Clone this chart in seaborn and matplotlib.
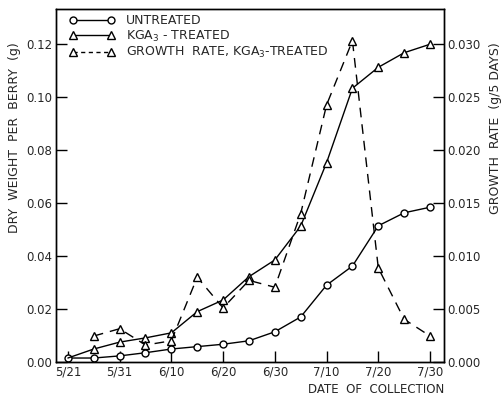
import matplotlib
matplotlib.use("Agg")
import matplotlib.pyplot as plt
from matplotlib.lines import Line2D
import seaborn as sns
import pandas as pd

# days after 5/21
days = [0, 5, 10, 15, 20, 25, 30, 35, 40, 45, 50, 55, 60, 65, 70]
untreated = [0.0015, 0.0015, 0.0023, 0.0035, 0.0049, 0.0058, 0.0067, 0.0080,
             0.0114, 0.0170, 0.0290, 0.0362, 0.0514, 0.0563, 0.0584]
treated = [0.0015, 0.0049, 0.0075, 0.0091, 0.0110, 0.0190, 0.0234, 0.0322,
           0.0385, 0.0513, 0.0752, 0.1033, 0.1112, 0.1167, 0.1199]
rate_days = [5, 10, 15, 20, 25, 30, 35, 40, 45, 50, 55, 60, 65, 70]
rate = [0.00245, 0.00314, 0.0016, 0.0020, 0.0080, 0.0051, 0.0077, 0.00705,
        0.0140, 0.02425, 0.0303, 0.00887, 0.00403, 0.00245]
xtick_days = [0, 10, 20, 30, 40, 50, 60, 70]
xtick_labels = ["5/21", "5/31", "6/10", "6/20", "6/30", "7/10", "7/20", "7/30"]
left_ticks = [0.00, 0.02, 0.04, 0.06, 0.08, 0.10, 0.12]
right_ticks = [0.000, 0.005, 0.010, 0.015, 0.020, 0.025, 0.030]
labels = ["UNTREATED", "KGA$_3$ - TREATED", "GROWTH  RATE, KGA$_3$-TREATED"]

sns.set_style("ticks")
plt.rcParams["font.family"] = ["DejaVu Sans"]
FS = 8.5

df_w = pd.DataFrame({"day": days, "untreated": untreated, "treated": treated})
df_r = pd.DataFrame({"day": rate_days, "rate": rate})

fig = plt.figure(figsize=(5.02, 3.96), dpi=100)
ax = fig.add_axes([56 / 502, 34 / 396, 388 / 502, 353 / 396])
ax2 = ax.twinx()

mk = dict(markerfacecolor="white", markeredgecolor="black", markeredgewidth=1)
sns.lineplot(data=df_w, x="day", y="untreated", ax=ax, color="black", lw=1,
             marker="o", markersize=5, **mk)
sns.lineplot(data=df_w, x="day", y="treated", ax=ax, color="black", lw=1,
             marker="^", markersize=6, markevery=list(range(1, len(days))), **mk)
sns.lineplot(data=df_r, x="day", y="rate", ax=ax2, color="black", lw=1,
             marker="^", markersize=6, **mk)
for ln in ax2.get_lines():
    ln.set_dashes((7, 5))

ax.set_xlim(-2.3, 72.7)
ax.set_ylim(0, 0.1332)
ax2.set_ylim(0, 0.0333)

ax.set_xticks(xtick_days)
ax.set_xticklabels(xtick_labels, fontsize=FS)
ax.set_yticks(left_ticks)
ax.set_yticklabels([f"{v:.2f}" for v in left_ticks], fontsize=FS)
ax2.set_yticks(right_ticks)
ax2.set_yticklabels([f"{v:.3f}" for v in right_ticks], fontsize=FS)

ax.tick_params(axis="both", direction="in", length=8, width=1, color="black", pad=2.5)
ax2.tick_params(axis="y", direction="in", length=8, width=1, color="black", pad=2.5)
for a in (ax, ax2):
    for s in a.spines.values():
        s.set_visible(True)
        s.set_linewidth(1)
        s.set_color("black")

ax.set_xlabel("DATE  OF  COLLECTION", fontsize=8.5, loc="right", labelpad=3)
ax.set_ylabel("")
ax2.set_ylabel("")
fig.text(15 / 502, 1 - 138 / 396, "DRY  WEIGHT  PER  BERRY  (g)", rotation=90,
         ha="center", va="center", fontsize=9)
fig.text(496 / 502, 1 - 128 / 396, "GROWTH  RATE  (g/5 DAYS)", rotation=90,
         ha="center", va="center", fontsize=9)

handles = [
    Line2D([0], [0], color="black", lw=1, marker="o", markersize=5, **mk),
    Line2D([0], [0], color="black", lw=1, marker="^", markersize=6, **mk),
    Line2D([0], [0], color="black", lw=1, marker="^", markersize=6,
           dashes=(3, 2.5), **mk),
]
leg = ax.legend(handles, labels, loc="upper left",
                bbox_to_anchor=(0.035, 0.985), frameon=False, fontsize=9,
                numpoints=2, handlelength=3.6, handletextpad=0.9,
                labelspacing=0.12, borderpad=0, borderaxespad=0)

fig.savefig("out.png", dpi=100)
